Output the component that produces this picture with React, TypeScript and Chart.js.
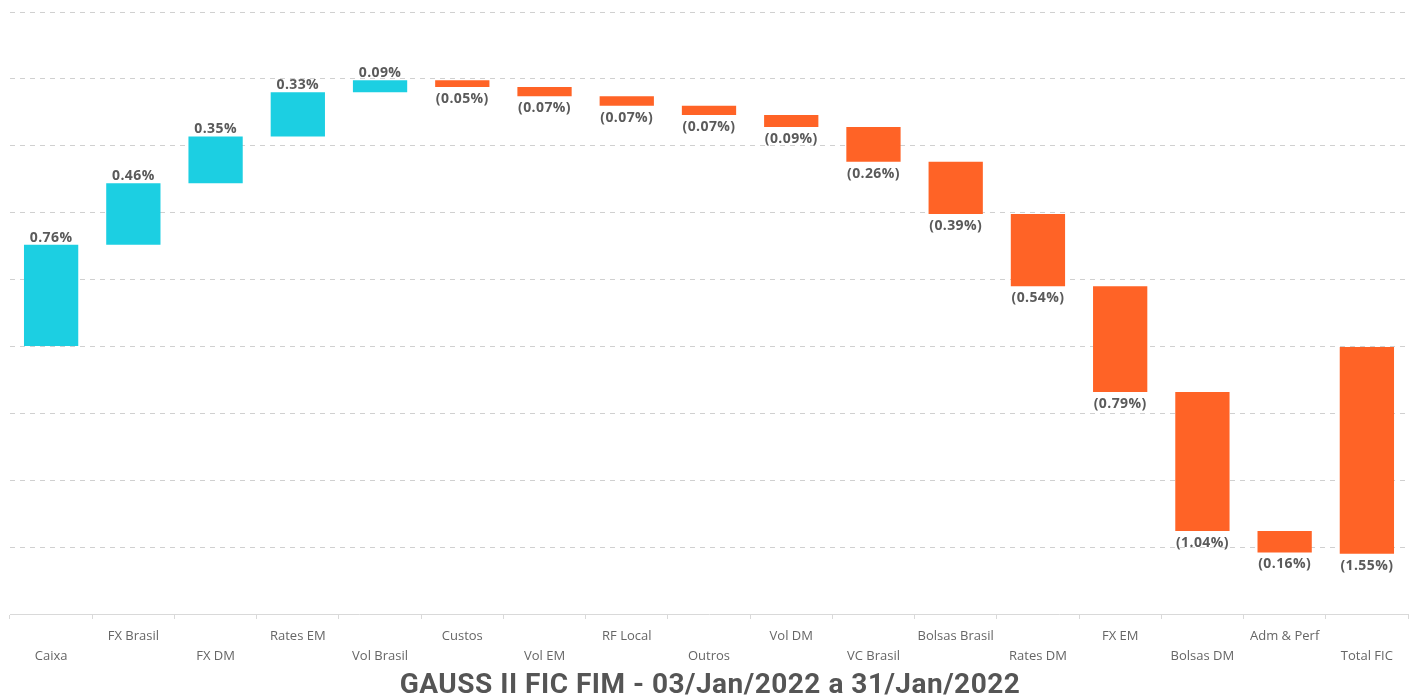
import React, { useEffect, useRef } from "react";
import { Chart, registerables } from "chart.js";

Chart.register(...registerables);

const categories = [
  "Caixa", "FX Brasil", "FX DM", "Rates EM", "Vol Brasil", "Custos", "Vol EM",
  "RF Local", "Outros", "Vol DM", "VC Brasil", "Bolsas Brasil", "Rates DM",
  "FX EM", "Bolsas DM", "Adm & Perf", "Total FIC",
];
const contributions = [
  0.76, 0.46, 0.35, 0.33, 0.09, -0.05, -0.07, -0.07, -0.07, -0.09, -0.26,
  -0.39, -0.54, -0.79, -1.04, -0.16,
];
const totalValue = -1.55;
const titleText = "GAUSS II FIC FIM - 03/Jan/2022 a 31/Jan/2022";

const CYAN = "#1ccfe2";
const ORANGE = "#ff6326";

export default function App() {
  const ref = useRef<HTMLCanvasElement | null>(null);

  useEffect(() => {
    if (!ref.current) return;
    const ranges: [number, number][] = [];
    const values: number[] = [];
    let cum = 0;
    contributions.forEach((v) => {
      ranges.push([cum, cum + v]);
      values.push(v);
      cum += v;
    });
    ranges.push([0, totalValue]);
    values.push(totalValue);
    const colors = values.map((v) => (v >= 0 ? CYAN : ORANGE));

    const fmt = (v: number) =>
      v >= 0 ? `${v.toFixed(2)}%` : `(${Math.abs(v).toFixed(2)}%)`;

    const labelPlugin = {
      id: "wfLabels",
      afterDatasetsDraw(chart: any) {
        const ctx = chart.ctx;
        const meta = chart.getDatasetMeta(0);
        ctx.save();
        ctx.font = "bold 14px 'Open Sans', sans-serif";
        try {
          (ctx as any).letterSpacing = "0.4px";
        } catch (e) {}
        ctx.fillStyle = "#5a5a5a";
        ctx.textAlign = "center";
        meta.data.forEach((bar: any, i: number) => {
          const v = values[i];
          const { x, y, base } = bar.getProps(["x", "y", "base"], true);
          const top = Math.min(y, base);
          const bottom = Math.max(y, base);
          if (v >= 0) {
            ctx.textBaseline = "alphabetic";
            ctx.fillText(fmt(v), x, top - 3);
          } else {
            ctx.textBaseline = "middle";
            ctx.fillText(fmt(v), x, bottom + 12);
          }
        });
        ctx.restore();
      },
    };

    const titlePlugin = {
      id: "bottomTitle",
      afterDraw(chart: any) {
        const ctx = chart.ctx;
        const area = chart.chartArea;
        ctx.save();
        ctx.font = "bold 28px Roboto, sans-serif";
        try {
          (ctx as any).letterSpacing = "0.5px";
        } catch (e) {}
        ctx.fillStyle = "#555555";
        ctx.textAlign = "center";
        ctx.textBaseline = "alphabetic";
        ctx.fillText(titleText, (area.left + area.right) / 2 + 1, 693);
        ctx.restore();
      },
    };

    const tickLabels = categories.map((c, i) => (i % 2 === 0 ? ["", c] : [c, ""]));

    const chart = new Chart(ref.current, {
      type: "bar",
      data: {
        labels: tickLabels as any,
        datasets: [
          {
            data: ranges as any,
            backgroundColor: colors,
            borderWidth: 0,
            categoryPercentage: 1,
            barPercentage: 0.66,
          },
        ],
      },
      options: {
        animation: false,
        responsive: true,
        maintainAspectRatio: false,
        layout: { padding: { left: 10, right: 5, top: 12, bottom: 23 } },
        plugins: {
          legend: { display: false },
          tooltip: { enabled: false },
          title: { display: false },
        },
        scales: {
          x: {
            grid: {
              offset: true,
              drawOnChartArea: false,
              drawTicks: true,
              tickLength: 5,
              color: "#d9d9d9",
            },
            border: { display: true, color: "#d9d9d9" },
            ticks: {
              autoSkip: false,
              maxRotation: 0,
              minRotation: 0,
              padding: 8,
              color: "#666666",
              font: { family: "'Open Sans', sans-serif", size: 13, lineHeight: 1.5 },
            },
          },
          y: {
            min: -2,
            max: 2.5,
            ticks: { display: false, stepSize: 0.5 },
            grid: {
              drawTicks: false,
              color: "#d0d0d0",
              lineWidth: 1,
            },
            border: { display: false, dash: [5, 5] },
          },
        },
      },
      plugins: [labelPlugin, titlePlugin],
    });
    return () => chart.destroy();
  }, []);

  return (
    <div style={{ position: "absolute", left: 0, top: 0, width: 1413, height: 697, background: "#fff" }}>
      <canvas ref={ref} />
    </div>
  );
}
